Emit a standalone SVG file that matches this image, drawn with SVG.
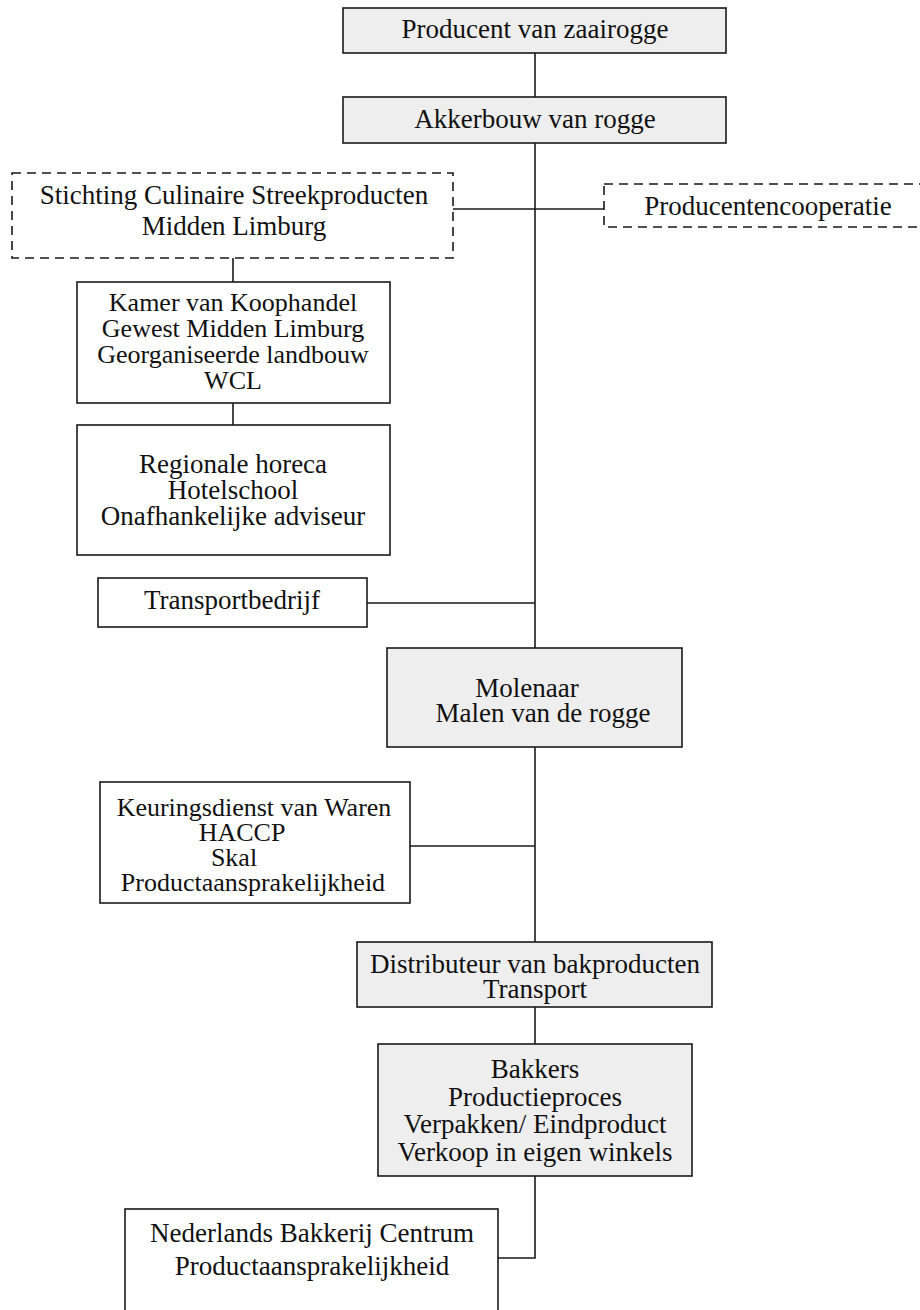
<svg xmlns="http://www.w3.org/2000/svg" width="920" height="1310" viewBox="0 0 920 1310">
  <style>
    .box { fill: #ffffff; stroke: #1a1a1a; stroke-width: 1.6; }
    .shade { fill: #eeeeee; }
    .dash { fill: #ffffff; stroke: #1a1a1a; stroke-width: 1.6; stroke-dasharray: 9 6; }
    .lbl { font-family: "Liberation Serif", "Times New Roman", serif; font-size: 27px; fill: #111111; text-anchor: middle; }
    .tight { font-size: 26px; }
    .conn { fill: none; stroke: #1a1a1a; stroke-width: 1.6; }
  </style>
  <rect width="920" height="1310" fill="#ffffff"/>

  <!-- connectors -->
  <g id="connectors" class="conn">
    <line x1="535" y1="53" x2="535" y2="97"/>
    <line x1="535" y1="143" x2="535" y2="648"/>
    <line x1="453" y1="209" x2="604" y2="209"/>
    <line x1="233" y1="258" x2="233" y2="282"/>
    <line x1="233" y1="403" x2="233" y2="425"/>
    <line x1="367" y1="603" x2="535" y2="603"/>
    <line x1="535" y1="747" x2="535" y2="942"/>
    <line x1="410" y1="846" x2="535" y2="846"/>
    <line x1="535" y1="1007" x2="535" y2="1044"/>
    <polyline points="535,1176 535,1258 498,1258"/>
  </g>

  <g id="producent-zaairogge">
    <rect class="box shade" x="343" y="8" width="383" height="45"/>
    <text class="lbl" x="535" y="38">Producent van zaairogge</text>
  </g>

  <g id="akkerbouw">
    <rect class="box shade" x="343" y="97" width="383" height="46"/>
    <text class="lbl" x="535" y="128">Akkerbouw van rogge</text>
  </g>

  <g id="stichting">
    <rect class="dash" x="12" y="173" width="441" height="85"/>
    <text class="lbl" x="234" y="204">Stichting Culinaire Streekproducten</text>
    <text class="lbl" x="234" y="235">Midden Limburg</text>
  </g>

  <g id="producentencooperatie">
    <rect class="dash" x="604" y="184" width="330" height="43"/>
    <text class="lbl" x="768" y="215">Producentencooperatie</text>
  </g>

  <g id="kamer-van-koophandel">
    <rect class="box" x="77" y="282" width="313" height="121"/>
    <text class="lbl tight" x="233" y="311">Kamer van Koophandel</text>
    <text class="lbl tight" x="233" y="337">Gewest Midden Limburg</text>
    <text class="lbl tight" x="233" y="363">Georganiseerde landbouw</text>
    <text class="lbl tight" x="233" y="389">WCL</text>
  </g>

  <g id="regionale-horeca">
    <rect class="box" x="77" y="425" width="313" height="130"/>
    <text class="lbl" x="233" y="473">Regionale horeca</text>
    <text class="lbl" x="233" y="499">Hotelschool</text>
    <text class="lbl" x="233" y="525">Onafhankelijke adviseur</text>
  </g>

  <g id="transportbedrijf">
    <rect class="box" x="98" y="578" width="269" height="49"/>
    <text class="lbl" x="232" y="609">Transportbedrijf</text>
  </g>

  <g id="molenaar">
    <rect class="box shade" x="387" y="648" width="295" height="99"/>
    <text class="lbl" x="527" y="697">Molenaar</text>
    <text class="lbl" x="543" y="722">Malen van de rogge</text>
  </g>

  <g id="keuringsdienst">
    <rect class="box" x="100" y="782" width="310" height="121"/>
    <text class="lbl tight" x="254" y="816">Keuringsdienst van Waren</text>
    <text class="lbl tight" x="242" y="841">HACCP</text>
    <text class="lbl tight" x="234" y="866">Skal</text>
    <text class="lbl tight" x="253" y="891">Productaansprakelijkheid</text>
  </g>

  <g id="distributeur">
    <rect class="box shade" x="357" y="942" width="355" height="65"/>
    <text class="lbl" x="535" y="973">Distributeur van bakproducten</text>
    <text class="lbl" x="535" y="998">Transport</text>
  </g>

  <g id="bakkers">
    <rect class="box shade" x="378" y="1044" width="314" height="132"/>
    <text class="lbl" x="535" y="1078">Bakkers</text>
    <text class="lbl" x="535" y="1106">Productieproces</text>
    <text class="lbl" x="535" y="1133">Verpakken/ Eindproduct</text>
    <text class="lbl" x="535" y="1161">Verkoop in eigen winkels</text>
  </g>

  <g id="bakkerij-centrum">
    <rect class="box" x="125" y="1209" width="373" height="130"/>
    <text class="lbl" x="312" y="1242">Nederlands Bakkerij Centrum</text>
    <text class="lbl" x="312" y="1275">Productaansprakelijkheid</text>
  </g>
</svg>
